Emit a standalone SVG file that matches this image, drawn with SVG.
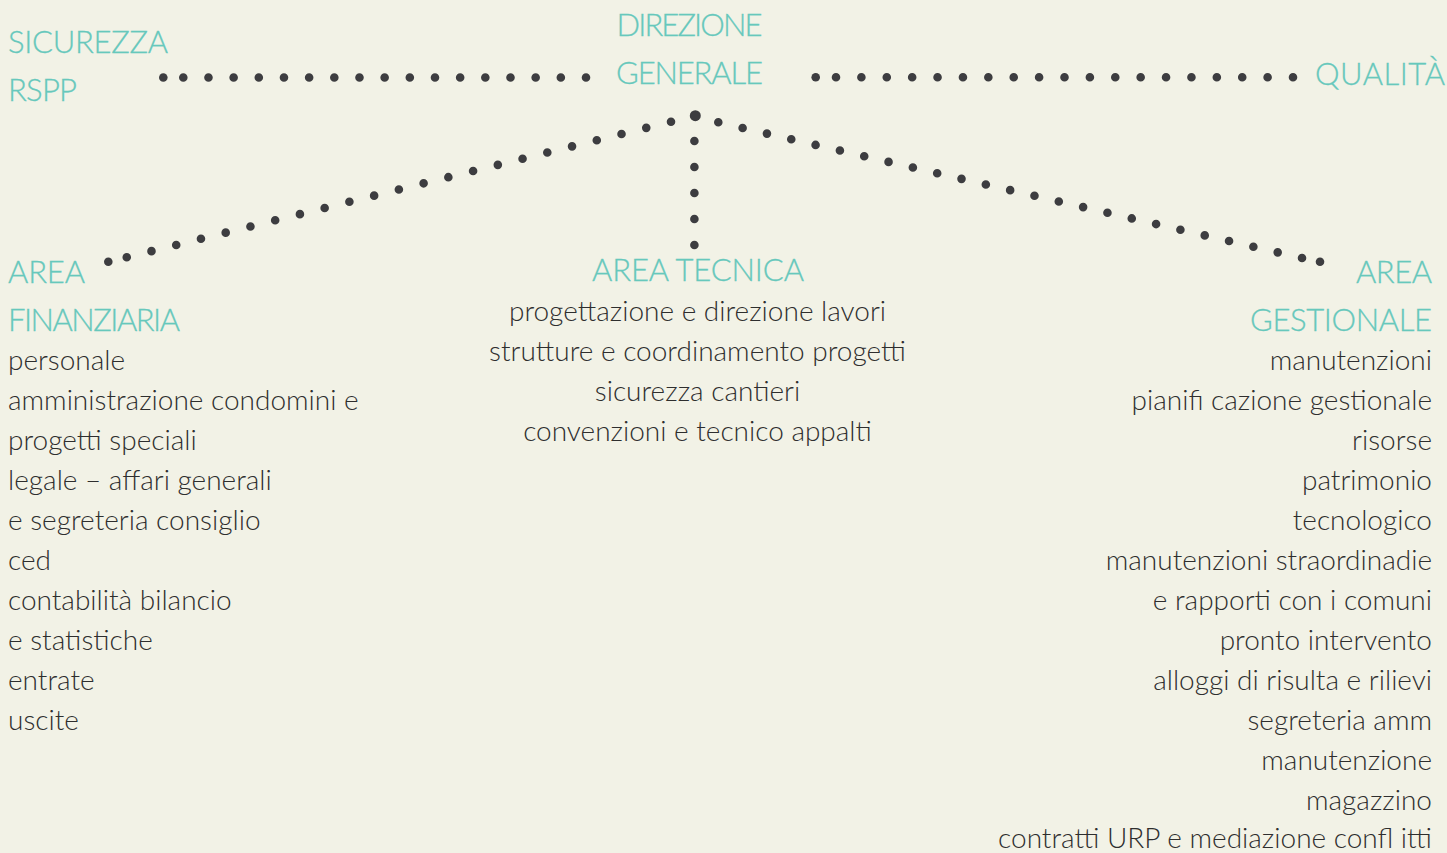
<svg xmlns="http://www.w3.org/2000/svg" width="1447" height="853" viewBox="0 0 1447 853">
<style>
.h{font-family:Lato,"Liberation Sans",sans-serif;font-weight:300;font-size:31px;fill:#67c8bc;stroke:#67c8bc;stroke-width:0.3}
.b{font-family:Lato,"Liberation Sans",sans-serif;font-weight:300;font-size:28px;fill:#2e2e2e}
.d{stroke:#3d3d40;stroke-width:8.6;stroke-linecap:round;fill:none}
.dot{fill:#3d3d40}
</style>
<rect width="1447" height="853" fill="#f2f2e6"/>
<g id="connectors">
<circle class="dot" cx="163.3" cy="77.5" r="4.3"/>
<line class="d" x1="183.3" y1="77.5" x2="587" y2="77.5" stroke-dasharray="0 25.169"/>
<circle class="dot" cx="815.7" cy="77.3" r="4.3"/>
<line class="d" x1="836" y1="77.3" x2="1294" y2="77.3" stroke-dasharray="0 25.389"/>
<circle class="dot" cx="695.3" cy="115.7" r="5.5"/>
<line class="d" x1="694.4" y1="141" x2="694.4" y2="246" stroke-dasharray="0 26"/>
<line class="d" x1="671" y1="121.7" x2="125.7" y2="257.55" stroke-dasharray="0 25.495"/>
<circle class="dot" cx="108.3" cy="261.7" r="4.3"/>
<line class="d" x1="718.3" y1="122.3" x2="1303" y2="258.23" stroke-dasharray="0 24.97"/>
<circle class="dot" cx="1320" cy="261.7" r="4.3"/>
</g>
<g id="sicurezza">
<text class="h" x="8" y="53" textLength="160">SICUREZZA</text>
<text class="h" x="8" y="101" textLength="69">RSPP</text>
</g>
<g id="direzione">
<text class="h" x="616.5" y="36" textLength="146">DIREZIONE</text>
<text class="h" x="616" y="84" textLength="147">GENERALE</text>
</g>
<g id="qualita">
<text class="h" x="1315" y="85" textLength="130">QUALITÀ</text>
</g>
<g id="area-finanziaria">
<text class="h" x="8" y="283" textLength="77">AREA</text>
<text class="h" x="8" y="331" textLength="172">FINANZIARIA</text>
<text class="b" x="8" y="370">personale</text>
<text class="b" x="8" y="410">amministrazione condomini e</text>
<text class="b" x="8" y="450">progetti speciali</text>
<text class="b" x="8" y="490">legale – affari generali</text>
<text class="b" x="8" y="530">e segreteria consiglio</text>
<text class="b" x="8" y="570">ced</text>
<text class="b" x="8" y="610">contabilità bilancio</text>
<text class="b" x="8" y="650">e statistiche</text>
<text class="b" x="8" y="690">entrate</text>
<text class="b" x="8" y="730">uscite</text>
</g>
<g id="area-tecnica">
<text class="h" x="592" y="281" textLength="212">AREA TECNICA</text>
<text class="b" x="697.5" y="321" text-anchor="middle">progettazione e direzione lavori</text>
<text class="b" x="697.5" y="361" text-anchor="middle">strutture e coordinamento progetti</text>
<text class="b" x="697.5" y="401" text-anchor="middle">sicurezza cantieri</text>
<text class="b" x="697.5" y="441" text-anchor="middle">convenzioni e tecnico appalti</text>
</g>
<g id="area-gestionale">
<text class="h" x="1356" y="283" textLength="76">AREA</text>
<text class="h" x="1250" y="331" textLength="182">GESTIONALE</text>
<text class="b" x="1432" y="370" text-anchor="end">manutenzioni</text>
<text class="b" x="1432" y="410" text-anchor="end">pianifi cazione gestionale</text>
<text class="b" x="1432" y="450" text-anchor="end">risorse</text>
<text class="b" x="1432" y="490" text-anchor="end">patrimonio</text>
<text class="b" x="1432" y="530" text-anchor="end">tecnologico</text>
<text class="b" x="1432" y="570" text-anchor="end">manutenzioni straordinadie</text>
<text class="b" x="1432" y="610" text-anchor="end">e rapporti con i comuni</text>
<text class="b" x="1432" y="650" text-anchor="end">pronto intervento</text>
<text class="b" x="1432" y="690" text-anchor="end">alloggi di risulta e rilievi</text>
<text class="b" x="1432" y="730" text-anchor="end">segreteria amm</text>
<text class="b" x="1432" y="770" text-anchor="end">manutenzione</text>
<text class="b" x="1432" y="810" text-anchor="end">magazzino</text>
<text class="b" x="1432" y="848" text-anchor="end">contratti URP e mediazione confl itti</text>
</g>
</svg>
